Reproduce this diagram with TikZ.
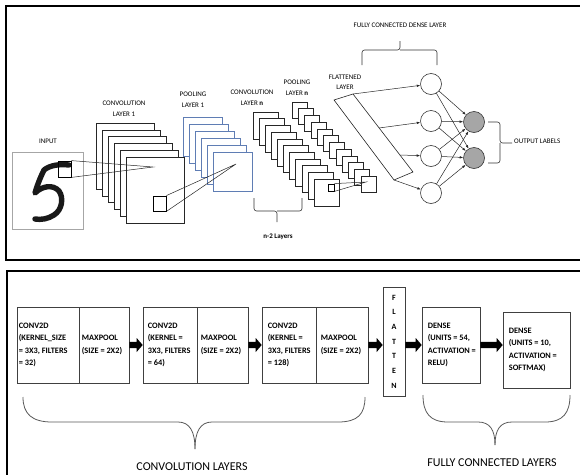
\documentclass[tikz,border=0pt]{standalone}
\usepackage{fontspec}
\setmainfont{Carlito}
\usetikzlibrary{arrows.meta,calc}
\definecolor{poolblue}{RGB}{95,125,180}

% thick block arrow between two anchors on the same level
\newcommand\fatlink[2]{%
  \fill[black] let \p1=(#1), \p2=(#2) in
    (\x1,\y1+3.2pt) -- (\x2-6pt,\y1+3.2pt) -- (\x2-6pt,\y1+7pt) -- (\x2,\y1)
    -- (\x2-6pt,\y1-7pt) -- (\x2-6pt,\y1-3.2pt) -- (\x1,\y1-3.2pt) -- cycle;}

\begin{document}
\begin{tikzpicture}[x=1pt,y=-1pt,
  lbl/.style={font=\fontsize{7}{11}\selectfont, align=center, inner sep=0},
  sheet/.style={draw=black!85, fill=white, line width=0.6pt},
  poolsheet/.style={draw=poolblue, fill=white, line width=0.6pt},
  ray/.style={draw=black!85, line width=0.5pt},
  patchbox/.style={draw=black, line width=0.8pt, inner sep=0},
  neuron/.style={circle, draw=black!80, fill=white, line width=0.6pt, minimum size=21pt, inner sep=0},
  outneuron/.style={neuron, fill=black!35},
  link/.style={draw=black!85, line width=0.5pt, -{Latex[length=3.5pt,width=2.5pt]}},
  bracket/.style={draw=black!80, line width=0.6pt, rounded corners=2.5pt},
  cell/.style={draw=black!75, line width=0.6pt, minimum height=76pt, inner sep=0},
  celltext/.style={font=\fontsize{8.3}{12.5}\selectfont\bfseries, align=left, inner sep=0, anchor=west},
  bigbrace/.style={draw=black!65, line width=0.8pt},
  biglabel/.style={font=\fontsize{12}{14}\selectfont, inner sep=0},
  panel/.style={line width=2pt}]
\useasboundingbox (0,0) rectangle (580,474);

% panel frames
\draw[panel] (580,6) -- (6,6) -- (6,260) -- (580,260);
\draw[panel] (580,271) -- (7,271) -- (7,475);

% ---------- upper panel: network sketch ----------
\node[lbl] (inlbl) at (48,141) {INPUT};
\node[draw=black!35, line width=0.6pt, minimum width=71pt, minimum height=77pt, inner sep=0] (input) at (47.5,190.5) {};
% handwritten digit
\draw[line width=5.4pt, line cap=round, line join=round, black!90]
  (69,165) .. controls (60,164) and (50,165) .. (44,170)
  .. controls (40,178) and (37,186) .. (35,193)
  .. controls (42,186) and (53,184) .. (59,191)
  .. controls (64,198) and (62,210) .. (54,215)
  .. controls (48,219) and (41,220) .. (35,219);
\node[patchbox, minimum width=13pt, minimum height=16pt] (patch) at (64.5,169) {};

% convolution layer 1
\foreach \i in {0,...,5} \draw[sheet] (96+6*\i,123+6.8*\i) rectangle ++(58,66);
\node[lbl] (c1lbl) at (124,108.5) {CONVOLUTION\\LAYER 1};
% pooling layer 1
\foreach \i in {0,...,5} \draw[poolsheet] (183+6*\i,117+7*\i) rectangle ++(39,39);
\node[lbl] (p1lbl) at (193,100) {POOLING\\LAYER 1};
% convolution layer n
\foreach \i in {0,...,10} \draw[sheet] (253+6.1*\i,112+6.7*\i) rectangle ++(25,27);
\node[lbl] (cnlbl) at (252,98) {CONVOLUTION\\LAYER \textbf{n}};
% pooling layer n
\foreach \i in {0,...,11} \draw[sheet] (292+6.27*\i,102+6.73*\i) rectangle ++(15,16);
\node[lbl] (pnlbl) at (297,88) {POOLING\\LAYER \textbf{n}};

% receptive fields
\coordinate (c1focus) at (153,167);
\draw[ray] (patch.north east) -- (c1focus) -- (patch.south east);
\node[patchbox, minimum width=13pt, minimum height=15pt] (k1) at (159.5,203.5) {};
\coordinate (p1focus) at (236,164);
\draw[ray] (k1.north east) -- (p1focus) -- (k1.south east);
\node[patchbox, minimum width=6pt, minimum height=7pt] (kn) at (331,187.5) {};
\coordinate (pnfocus) at (366,182);
\draw[ray] (kn.north east) -- (pnfocus) -- (kn.south east);

% n-2 layers bracket
\draw[bracket] (254,198) |- (277,211) -- (277,222);
\draw[bracket] (302,198) |- (277,211);
\node[font=\fontsize{7}{8}\selectfont\bfseries, inner sep=0] (nlbl) at (278,237) {n-2 Layers};

% flattened layer
\draw[sheet] (334,100) -- (353,94) -- (413,172) -- (394,180) -- cycle;
\node[lbl, font=\fontsize{7}{10}\selectfont] (fllbl) at (345,82) {FLATTENED\\LAYER};
\coordinate (fa) at (353,94);
\coordinate (fb) at (379,128);
\coordinate (fc) at (400,155);
\coordinate (fd) at (394,180);

% dense and output neurons
\node[neuron] (d1) at (431,84) {};
\node[neuron] (d2) at (431,121) {};
\node[neuron] (d3) at (431,156) {};
\node[neuron] (d4) at (431,193) {};
\node[outneuron] (o1) at (474,122) {};
\node[outneuron] (o2) at (474,158) {};
\draw[link] (fa) -- (d1);
\draw[link] (fb) -- (d2);
\draw[link] (fc) -- (d3);
\draw[link] (fd) -- (d4);
\foreach \i in {1,...,4} \foreach \j in {1,2} \draw[link] (d\i) -- (o\j);

% dense layer bracket
\draw[bracket] (362,65) |- (400,50) -- (400,41);
\draw[bracket] (437,65) |- (400,50);
\node[lbl] (fclbl) at (400,25) {FULLY CONNECTED DENSE LAYER};

% output bracket
\draw[bracket] (488,122) -| (500,143) -- (512,143);
\draw[bracket] (488,163) -| (500,143);
\node[lbl, anchor=west] (outlbl) at (514,141.5) {OUTPUT LABELS};

% ---------- lower panel: layer pipeline ----------
\node[cell, minimum width=62pt] (c1) at (48,345) {};
\node[cell, minimum width=50pt] (m1) at (104,345) {};
\node[cell, minimum width=54pt] (c2) at (170,345) {};
\node[cell, minimum width=51pt] (m2) at (222.5,345) {};
\node[cell, minimum width=54pt] (c3) at (289,345) {};
\node[cell, minimum width=52pt] (m3) at (342,345) {};
\node[cell, minimum width=22pt, minimum height=109pt] (fl) at (394,341.5) {};
\node[cell, minimum width=58pt] (e1) at (451,345) {};
\node[cell, minimum width=67pt] (e2) at (536.5,350) {};

\node[celltext] (c1t) at ([xshift=2pt]c1.west) {CONV2D\\(KERNEL\_SIZE\\= 3X3, FILTERS\\= 32)};
\node[celltext] (m1t) at ([xshift=3pt]m1.west) {MAXPOOL\\(SIZE = 2X2)};
\node[celltext] (c2t) at ([xshift=5pt]c2.west) {CONV2D\\(KERNEL =\\3X3, FILTERS\\= 64)};
\node[celltext] (m2t) at ([xshift=4pt]m2.west) {MAXPOOL\\(SIZE = 2X2)};
\node[celltext] (c3t) at ([xshift=6pt]c3.west) {CONV2D\\(KERNEL =\\3X3, FILTERS\\= 128)};
\node[celltext] (m3t) at ([xshift=5pt]m3.west) {MAXPOOL\\(SIZE = 2X2)};
\node[font=\fontsize{8}{14.7}\selectfont\bfseries, align=center, inner sep=0] (flt) at (fl) {F\\L\\A\\T\\T\\E\\N};
\node[celltext] (e1t) at ([xshift=6pt]e1.west) {DENSE\\(UNITS = 54,\\ACTIVATION =\\RELU)};
\node[celltext] (e2t) at ([xshift=6pt]e2.west) {DENSE\\(UNITS = 10,\\ACTIVATION =\\SOFTMAX)};

\fatlink{m1.east}{c2.west}
\fatlink{m2.east}{c3.west}
\fatlink{m3.east}{m3.east -| fl.west}
\fatlink{fl.east |- e1.west}{e1.west}
\fatlink{e1.east}{e1.east -| e2.west}

% group braces
\draw[bigbrace] (23,397) .. controls (23,414) and (32,422) .. (52,422) -- (178,422)
  .. controls (190,422) and (195,432) .. (195,449);
\draw[bigbrace] (365,397) .. controls (365,414) and (358,422) .. (338,422) -- (212,422)
  .. controls (200,422) and (195,432) .. (195,449);
\node[biglabel] (convlbl) at (192,467) {CONVOLUTION LAYERS};
\draw[bigbrace] (423,395) .. controls (423,413) and (430,422) .. (448,422) -- (478,422)
  .. controls (490,422) and (495,430) .. (495,445);
\draw[bigbrace] (570,395) .. controls (570,413) and (563,422) .. (545,422) -- (512,422)
  .. controls (500,422) and (495,430) .. (495,445);
\node[biglabel] (fcgrplbl) at (492,463) {FULLY CONNECTED LAYERS};
\end{tikzpicture}
\end{document}
